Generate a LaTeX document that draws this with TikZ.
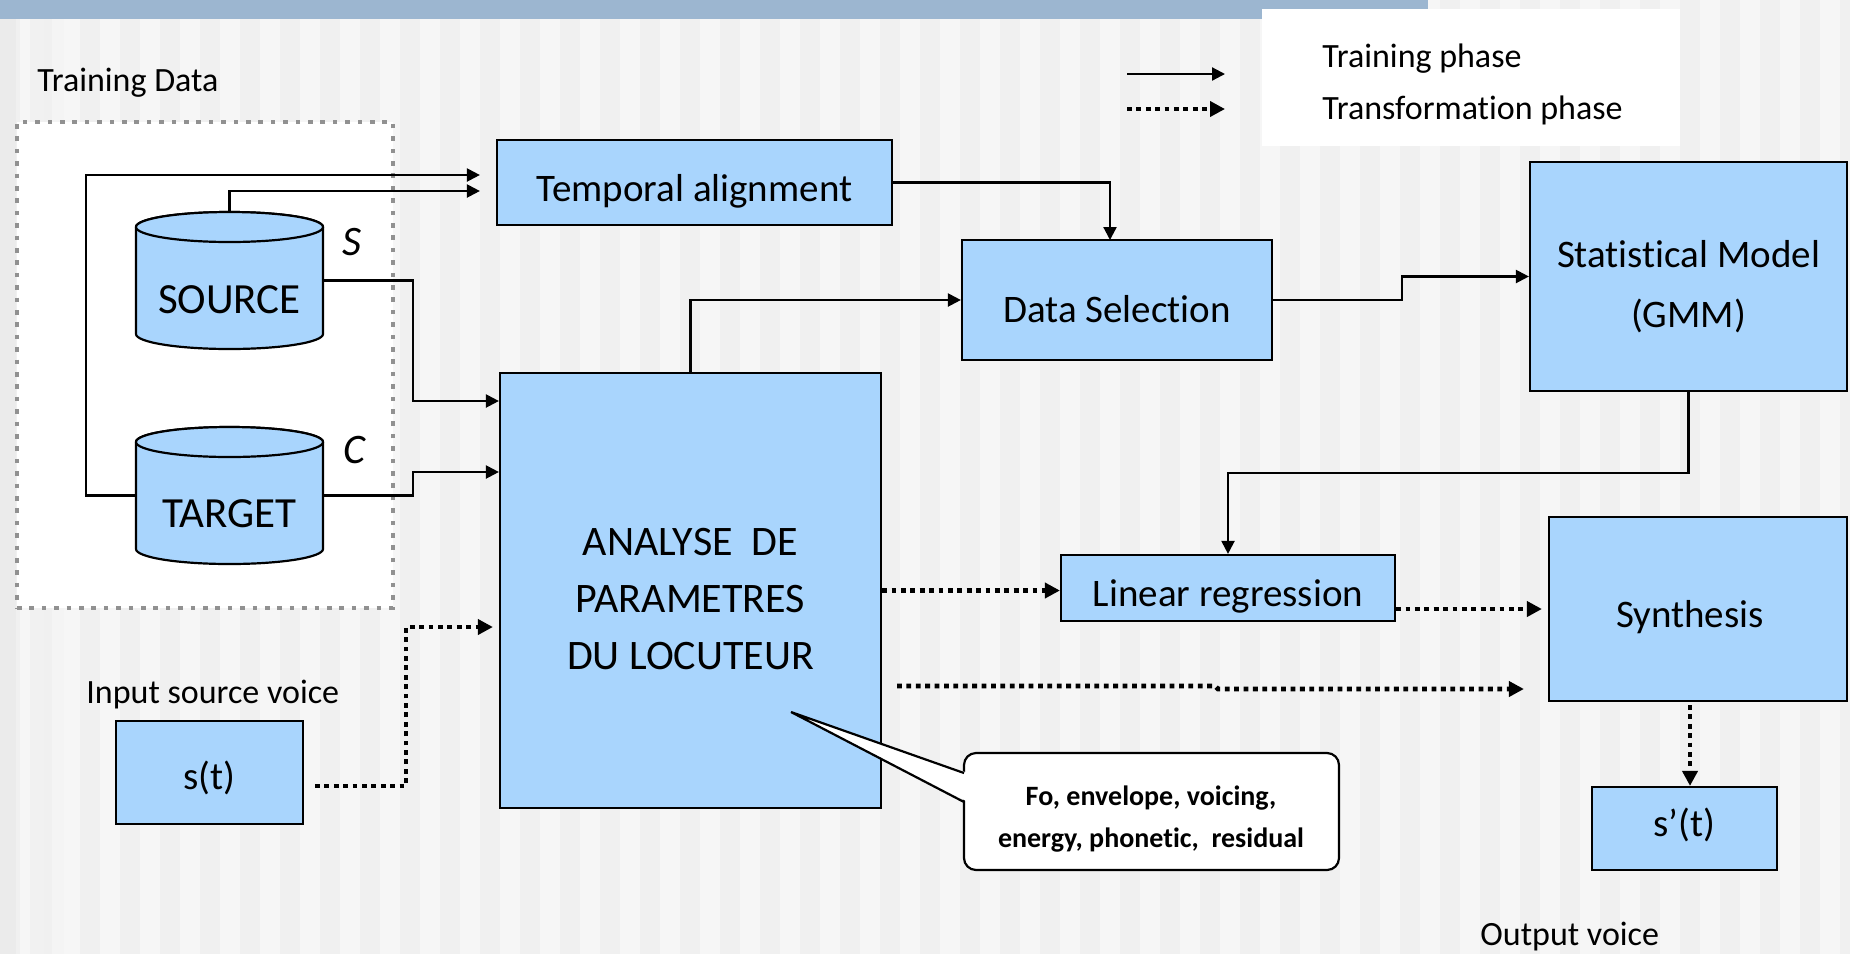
\documentclass[tikz,border=0pt]{standalone}
\usepackage{fontspec}
\setmainfont[Ligatures=NoCommon]{Carlito}
\usetikzlibrary{arrows.meta,fit,calc}
\definecolor{boxblue}{RGB}{169,213,253}
\definecolor{barblue}{RGB}{156,182,208}
\definecolor{bgA}{RGB}{240,240,240}
\definecolor{bgB}{RGB}{246,246,246}
\definecolor{dotgray}{RGB}{145,145,145}
\begin{document}
\begin{tikzpicture}[x=0.5pt,y=-0.5pt,
  blk/.style={draw=black, line width=1.1pt, fill=boxblue, inner sep=0pt},
  txt/.style={font=\fontsize{19.5}{29}\selectfont, inner sep=0pt, align=center},
  train/.style={line width=1.1pt, -{Triangle[length=6.5pt,width=6.5pt]}},
  trans/.style={line width=2.4pt, dash pattern=on 2.4pt off 2.3pt, -{Triangle[length=7.5pt,width=7.5pt]}},
  lbl/.style={font=\fontsize{17}{20}\selectfont, anchor=west, inner sep=0pt},
  cylfill/.style={draw=black, line width=1.1pt, fill=boxblue}
]
\useasboundingbox (0,0) rectangle (1850,954);
% background
\fill[bgA] (0,0) rectangle (1850,954);
\foreach \i in {0,...,46} \fill[bgB] (\i*40+20,0) rectangle ++(20,954);
\fill[gray!16] (0,0) rectangle (16,954);
\fill[gray!11] (30,0) rectangle (44,954);
\fill[gray!9] (52,0) rectangle (64,954);
\fill[barblue] (0,0) rectangle (1428,19);
% legend
\node[fill=white, fit={(1262,9) (1680,146)}, inner sep=0pt] (leg) {};
\coordinate (l1a) at (1127,74); \coordinate (l1b) at (1225,74);
\coordinate (l2a) at (1127,109); \coordinate (l2b) at (1225,109);
\draw[train] (l1a) -- (l1b);
\draw[trans] (l2a) -- (l2b);
\node[lbl] (legt1) at (1322,59) {Training phase};
\node[lbl] (legt2) at (1322,110) {Transformation phase};
% training data box
\node[lbl] (tdlbl) at (37,83) {Training Data};
\node[draw=dotgray, line width=2.3pt, dash pattern=on 2.3pt off 3.9pt, fill=white, fit={(17,122) (393,608)}, inner sep=0pt] (tdbox) {};
% cylinders
\draw[cylfill] (136,227) -- (136,334) arc[start angle=180, end angle=360, x radius=46.75pt, y radius=7.5pt] -- (323,227) arc[start angle=0, end angle=180, x radius=46.75pt, y radius=7.5pt] -- cycle;
\draw[cylfill] (229.5,227) ellipse [x radius=46.75pt, y radius=7.5pt];
\node[fit={(136,212) (323,349)}, inner sep=0pt] (src) {};
\node[txt, font=\fontsize{21.5}{26}\selectfont] (srctxt) at (229.5,300) {SOURCE};
\draw[cylfill] (136,442) -- (136,549) arc[start angle=180, end angle=360, x radius=46.75pt, y radius=7.5pt] -- (323,442) arc[start angle=0, end angle=180, x radius=46.75pt, y radius=7.5pt] -- cycle;
\draw[cylfill] (229.5,442) ellipse [x radius=46.75pt, y radius=7.5pt];
\node[fit={(136,427) (323,564)}, inner sep=0pt] (tgt) {};
\node[txt, font=\fontsize{21.5}{26}\selectfont] (tgttxt) at (229.5,514) {TARGET};
\node[font=\itshape\fontsize{21}{24}\selectfont, inner sep=0pt] (slbl) at (352,242) {S};
\node[font=\itshape\fontsize{21}{24}\selectfont, inner sep=0pt] (clbl) at (354,450) {C};
% blocks
\node[blk, fit={(497,140) (892,225)}] (temp) {};
\node[txt] (temptxt) at (694.5,191) {Temporal alignment};
\node[blk, fit={(962,240) (1272,360)}] (ds) {};
\node[txt] (dstxt) at (1117,309) {Data Selection};
\node[blk, fit={(1530,162) (1847,391)}] (sm) {};
\node[txt, font=\fontsize{19.5}{30}\selectfont] (smtxt) at (1688.5,287) {Statistical Model\\(GMM)};
\node[blk, fit={(500,373) (881,808)}] (ana) {};
\node[txt, font=\fontsize{21}{28.5}\selectfont] (anatxt) at (690.5,599) {ANALYSE\ \ DE\\PARAMETRES\\DU LOCUTEUR};
\node[blk, fit={(1061,555) (1395,621)}] (lr) {};
\node[txt] (lrtxt) at (1228,596) {Linear regression};
\node[blk, fit={(1549,517) (1847,701)}] (syn) {};
\node[txt] (syntxt) at (1690,617) {Synthesis};
\node[blk, fit={(116,721) (303,824)}] (st) {};
\node[txt] (sttxt) at (209.5,778) {s(t)};
\node[blk, fit={(1592,787) (1777,870)}] (sp) {};
\node[txt] (sptxt) at (1684.5,825) {s’(t)};
\node[lbl] (inlbl) at (86,695) {Input source voice};
\node[lbl] (outlbl) at (1480,937) {Output voice};
% training connectors
\coordinate (c1) at (86,175);
\draw[train, shorten >=8pt] (tgt.west) -| (c1) -- (c1 -| temp.west);
\coordinate (c2) at (229.5,191);
\draw[train, shorten >=8pt] (src.north) -- (c2) -- (c2 -| temp.west);
\coordinate (c3) at (413,401);
\draw[train] (src.east) -| (c3) -- (c3 -| ana.west);
\coordinate (c4) at (413,472);
\draw[train] (tgt.east) -| (c4) -- (c4 -| ana.west);
\coordinate (c5) at (1110,240);
\draw[train] (temp.east) -| (c5);
\draw[train] (ana.north) |- (ds.west);
\coordinate (c7) at (1402,300);
\draw[train] (ds.east) -- (c7) |- (sm.west);
\coordinate (c8) at (1688.5,473);
\draw[train] (sm.south) -- (c8) -| (lr.north);
% transformation connectors
\coordinate (c9a) at (315,786); \coordinate (c9b) at (406,627);
\draw[trans, shorten >=3pt] (c9a) -| (c9b) -- (c9b -| ana.west);
\draw[trans] (ana.east) -- (ana.east -| lr.west);
\draw[trans, shorten >=3pt] (lr.east |- syn.west) -- (syn.west);
\coordinate (c12a) at (897,686); \coordinate (c12b) at (1215,686); \coordinate (c12c) at (1218,689);
\draw[trans, shorten >=12pt] (c12a) -- (c12b) -- (c12c) -- (c12c -| syn.west);
\coordinate (c13) at (1690,705);
\draw[trans] (c13) -- (c13 |- sp.north);
% callout
\node[draw, line width=1.1pt, fill=white, rounded corners=6pt, fit={(964,753) (1339,870)}, inner sep=0pt] (call) {};
\coordinate (tip) at (791,712); \coordinate (pb1) at (964,773); \coordinate (pb2) at (964,802);
\fill[white] ($(pb1)+(4,0)$) -- (tip) -- ($(pb2)+(4,0)$) -- cycle;
\draw[line width=1.1pt] (pb1) -- (tip) -- (pb2);
\node[font=\bfseries\fontsize{14}{21}\selectfont, align=center, inner sep=0pt] (calltxt) at (1151,819) {Fo, envelope, voicing,\\energy, phonetic,\ \ residual};
\end{tikzpicture}
\end{document}
